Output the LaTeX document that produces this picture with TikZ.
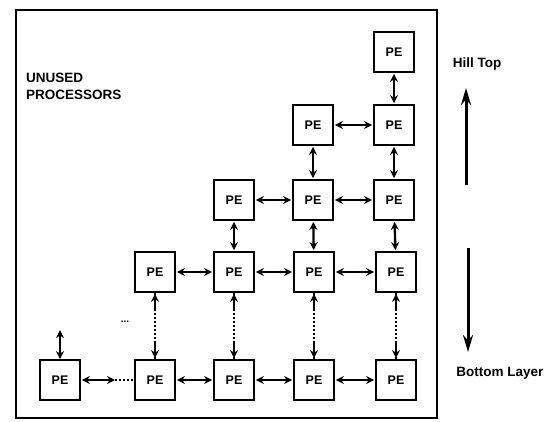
\documentclass[tikz,border=0pt]{standalone}
\usepackage{fontspec}
\setmainfont{Liberation Sans}
\usetikzlibrary{arrows.meta}
\begin{document}
\begin{tikzpicture}[
    x=1pt, y=-1pt,
    >={Stealth[length=8pt, width=8pt]},
    pe/.style={draw, line width=1.8pt, minimum width=40pt, minimum height=40pt, inner sep=0pt, font=\fontsize{12.5}{14}\selectfont\bfseries},
    link/.style={<->, line width=2.3pt, shorten <=1pt, shorten >=1pt},
    dotlink/.style={line width=2pt, dotted},
    lbl/.style={font=\fontsize{13.5}{17}\selectfont\bfseries, align=left, inner sep=0pt},
    big/.style={-{Stealth[length=17pt, width=10pt]}, line width=3pt}
  ]
    \useasboundingbox (0,0) rectangle (549,421);
    \draw[line width=2pt] (16,10) rectangle (437,418);

    % bottom layer
    \node[pe] (r1c0) at (60,380) {PE};
    \node[pe] (r1c1) at (155,380) {PE};
    \node[pe] (r1c2) at (234,380) {PE};
    \node[pe] (r1c3) at (314,380) {PE};
    \node[pe] (r1c4) at (396,380) {PE};
    % second layer
    \node[pe] (r2c1) at (155,272) {PE};
    \node[pe] (r2c2) at (234,272) {PE};
    \node[pe] (r2c3) at (314,272) {PE};
    \node[pe] (r2c4) at (396,272) {PE};
    % third layer
    \node[pe] (r3c2) at (234,200) {PE};
    \node[pe] (r3c3) at (313,200) {PE};
    \node[pe] (r3c4) at (394,200) {PE};
    % fourth layer
    \node[pe] (r4c3) at (313,125) {PE};
    \node[pe] (r4c4) at (394,125) {PE};
    % hill top
    \node[pe] (r5c4) at (394,52) {PE};

    \node[lbl, anchor=north west] (unused) at (26,73) {UNUSED\\PROCESSORS};
    \node[lbl] (hill) at (477,64) {Hill Top};
    \node[lbl] (bottom) at (500,373) {Bottom Layer};
    \node[inner sep=0pt, font=\bfseries] (more) at (125,322) {...};

    % horizontal links
    \coordinate (gap) at (115,380);
    \draw[link, shorten >=0pt] (r1c0.east) -- (gap);
    \draw[dotlink] (gap) -- (r1c1.west);
    \draw[link] (r1c1) -- (r1c2);
    \draw[link] (r1c2) -- (r1c3);
    \draw[link] (r1c3) -- (r1c4);
    \draw[link] (r2c1) -- (r2c2);
    \draw[link] (r2c2) -- (r2c3);
    \draw[link] (r2c3) -- (r2c4);
    \draw[link] (r3c2) -- (r3c3);
    \draw[link] (r3c3) -- (r3c4);
    \draw[link] (r4c3) -- (r4c4);

    % vertical links
    \foreach \c in {1,2,3,4} {
      \draw[dotlink] (r2c\c.south) -- (r1c\c.north);
      \draw[<-, line width=2.3pt, shorten <=1pt] (r2c\c.south) -- ++(0,18);
      \draw[<-, line width=2.3pt, shorten <=1pt] (r1c\c.north) -- ++(0,-18);
    }
    \draw[link] (r3c2) -- (r2c2);
    \draw[link] (r3c3) -- (r2c3);
    \draw[link] (r3c4) -- (r2c4);
    \draw[link] (r4c3) -- (r3c3);
    \draw[link] (r4c4) -- (r3c4);
    \draw[link] (r5c4) -- (r4c4);
    \draw[link, shorten <=0pt] (r1c0.north) -- ++(0,-30);

    \draw[big] (466,185) -- (466,88);
    \draw[big] (468,248) -- (468,352);
  \end{tikzpicture}
\end{document}
